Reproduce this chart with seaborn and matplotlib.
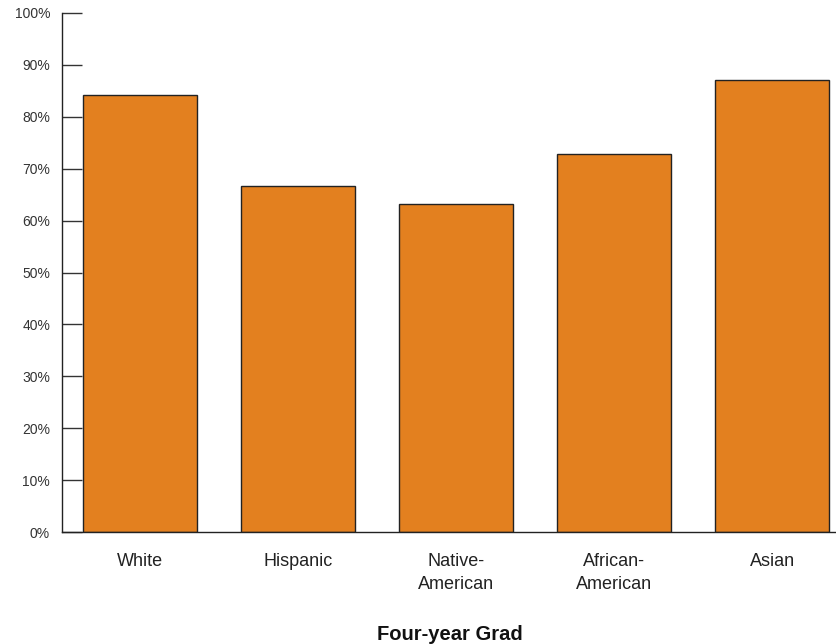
import matplotlib
matplotlib.use("Agg")
import matplotlib.pyplot as plt
import seaborn as sns
import pandas as pd
from matplotlib.ticker import PercentFormatter

categories = ["White", "Hispanic", "Native-\nAmerican", "African-\nAmerican", "Asian"]
values = [84.2, 66.7, 63.2, 72.8, 87.1]
yticks = [0, 10, 20, 30, 40, 50, 60, 70, 80, 90, 100]

df = pd.DataFrame({"group": categories, "value": values})

sns.set_style("white")
plt.rcParams['font.family'] = ['Liberation Sans', 'DejaVu Sans']

W, H = 837, 644
fig = plt.figure(figsize=(W / 100, H / 100), dpi=100)
ax = fig.add_axes([62 / W, (H - 532) / H, (837 - 62) / W, 519 / H])

sns.barplot(data=df, x="group", y="value", color="#E3801F", saturation=1,
            width=0.72, edgecolor="#222222", linewidth=1, ax=ax)

ax.set_ylim(0, 100)
ax.set_xlim(-0.494, 4.41)
ax.set_yticks(yticks)
ax.yaxis.set_major_formatter(PercentFormatter(decimals=0))
ax.tick_params(axis="y", left=True, direction="in", length=14.5, width=1, color="#333333",
               labelsize=10, labelcolor="#333333", pad=8.6)
ax.tick_params(axis="x", bottom=False, length=0, labelsize=13, labelcolor="#222222", pad=15)
for lbl in ax.get_xticklabels():
    lbl.set_linespacing(1.45)
ax.set_ylabel("")
ax.set_xlabel("Four-year Grad", fontsize=14.5, fontweight="bold", color="#111111", labelpad=23)

for s in ["top", "right"]:
    ax.spines[s].set_visible(False)
for s in ["left", "bottom"]:
    ax.spines[s].set_color("#222222")
    ax.spines[s].set_linewidth(1)

fig.savefig("out.png", dpi=100)
